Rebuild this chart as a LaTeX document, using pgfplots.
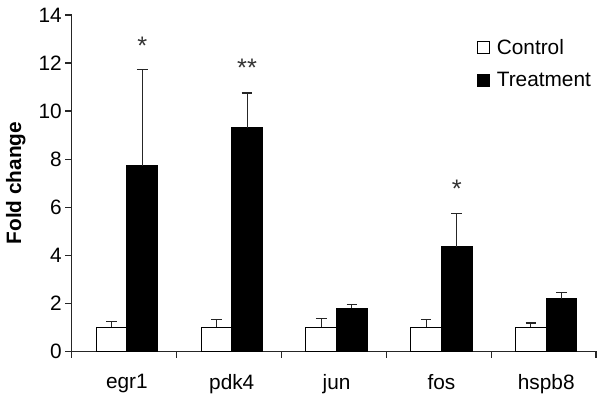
\documentclass[border=0pt]{standalone}
\usepackage{fontspec}
\setmainfont{Liberation Sans}
\usepackage{pgfplots}
\pgfplotsset{compat=1.18}

\pgfplotstableread{
x ctrl ctrlerr treat treaterr
0 1.00 0.24 7.72 4.02
1 1.00 0.33 9.30 1.45
2 1.00 0.37 1.78 0.18
3 1.00 0.30 4.35 1.39
4 1.00 0.17 2.17 0.26
}\datatable

\begin{document}
\begin{tikzpicture}[font=\fontsize{15.6}{18}\selectfont]
\begin{axis}[
  scale only axis, width=393pt, height=252pt,
  ybar=0pt, bar width=23pt,
  xmin=-0.5, xmax=4.5, ymin=0, ymax=14,
  axis x line=bottom, axis y line=left,
  axis line style={-, line width=0.8pt, black!85},
  xtick={0,1,2,3,4},
  xticklabels={egr1,pdk4,jun,fos,hspb8},
  major x tick style={draw=none},
  minor xtick={-0.5,0.5,1.5,2.5,3.5,4.5},
  minor x tick style={line width=0.8pt, black!85},
  minor tick length=5pt,
  ytick={0,2,...,14},
  major tick length=5pt,
  tick align=outside,
  y tick style={line width=0.8pt, black!85},
  xticklabel style={yshift=-9pt, xshift=2pt},
  yticklabel style={xshift=1pt},
  /pgf/number format/assume math mode=true,
  ylabel={\bfseries Fold change},
  ylabel style={at={(rel axis cs:-0.107,0.5)}, anchor=center},
  legend style={at={(rel axis cs:0.765,0.945)}, anchor=north west, draw=none, fill=none,
    row sep=8pt, font=\fontsize{15.6}{18}\selectfont, cells={anchor=west}},
  legend image code/.code={\draw[#1, line width=0.8pt] (0pt,-4.5pt) rectangle (9pt,4.5pt);},
  clip=false,
]
\addplot[fill=white, draw=black, line width=0.8pt, xshift=2pt,
  error bars/.cd, y dir=plus, y explicit,
  error bar style={line width=0.8pt, black!85},
  error mark options={rotate=90, mark size=4pt, line width=0.8pt, black!85}]
  table[x=x, y=ctrl, y error=ctrlerr] {\datatable};
\addplot[fill=black, draw=black, line width=0.8pt, xshift=2pt,
  error bars/.cd, y dir=plus, y explicit,
  error bar style={line width=0.8pt, black!85},
  error mark options={rotate=90, mark size=4pt, line width=0.8pt, black!85}]
  table[x=x, y=treat, y error=treaterr] {\datatable};
\legend{\hspace{3pt}Control, \hspace{3pt}Treatment}
\node[xshift=13.5pt, font=\fontsize{19}{20}\selectfont, text=black!80] at (axis cs:0,12.7) {*};
\node[xshift=13.5pt, font=\fontsize{19}{20}\selectfont, text=black!80] at (axis cs:1,11.8) {**};
\node[xshift=13.5pt, font=\fontsize{19}{20}\selectfont, text=black!80] at (axis cs:3,6.75) {*};
\path (rel axis cs:-0.137,-0.158) rectangle (rel axis cs:1.0076,1.0446);
\end{axis}
\end{tikzpicture}
\end{document}
